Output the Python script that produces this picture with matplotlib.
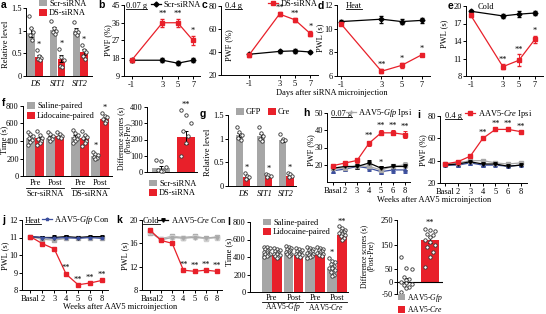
import matplotlib
matplotlib.use("Agg")
import matplotlib.pyplot as plt
from matplotlib.lines import Line2D
from matplotlib.patches import Patch

plt.rcParams["font.family"] = ["Liberation Serif", "DejaVu Serif"]
plt.rcParams["font.size"] = 6
plt.rcParams["mathtext.fontset"] = "custom"
plt.rcParams["mathtext.rm"] = "Liberation Serif"
plt.rcParams["mathtext.it"] = "Liberation Serif:italic"
plt.rcParams["axes.unicode_minus"] = False
plt.rcParams["axes.linewidth"] = 0.7
for a_ in ("xtick", "ytick"):
    plt.rcParams[a_ + ".major.size"] = 2
    plt.rcParams[a_ + ".major.width"] = 0.7
    plt.rcParams[a_ + ".labelsize"] = 6
plt.rcParams["xtick.major.pad"] = 1.5
plt.rcParams["ytick.major.pad"] = 1

RED = "#e8202a"
GRAY = "#a6a6a6"
BLUE = "#3c4f9e"
LGRAY = "#a9a9a9"

# ---- a: relative level after siRNA
a_genes = ["DS", "SIT1", "SIT2"]
a_scr = [0.95, 1.02, 1.0]
a_scr_err = [0.1, 0.06, 0.05]
a_ds = [0.42, 0.38, 0.53]
a_ds_err = [0.05, 0.08, 0.06]
a_scr_pts = [[1.32, 1.05, 0.98, 0.9, 0.8], [1.22, 1.05, 1.0, 0.97, 0.92], [1.2, 1.02, 0.98, 0.95, 0.9]]
a_ds_pts = [[0.58, 0.45, 0.4, 0.38, 0.36], [0.6, 0.42, 0.35, 0.22, 0.2], [0.68, 0.58, 0.52, 0.45, 0.38]]

# ---- b-e: siRNA time course
days = [-1, 3, 5, 7]
b_scr = [17, 17, 15.5, 17]; b_scr_err = [0.8, 1.0, 1.0, 1.0]
b_ds = [17, 36, 36, 27]; b_ds_err = [0.8, 2.0, 2.0, 2.5]
b_stars = ["", "**", "**", "*"]
c_scr = [38, 40.5, 41, 40]; c_scr_err = [1.0, 1.2, 1.5, 1.2]
c_ds = [37, 73, 68, 56]; c_ds_err = [1.0, 1.5, 1.5, 2.5]
c_stars = ["", "**", "**", "*"]
d_scr = [10.6, 10.8, 10.6, 10.7]; d_scr_err = [0.1, 0.3, 0.2, 0.2]
d_ds = [10.4, 6.4, 6.9, 7.8]; d_ds_err = [0.1, 0.15, 0.2, 0.1]
d_stars = ["", "**", "*", "*"]
e_scr = [19.1, 18.3, 18.6, 18.8]; e_scr_err = [0.3, 0.3, 0.5, 0.3]
e_ds = [18.4, 9.6, 10.7, 14.3]; e_ds_err = [0.3, 0.4, 1.0, 0.6]
e_stars = ["", "**", "**", "*"]

# ---- f: CPP siRNA
f_groups = ["Pre", "Post", "Pre", "Post"]
f_sal = [440, 440, 445, 225]
f_sal_err = [25, 15, 20, 15]
f_lid = [430, 455, 440, 650]
f_lid_err = [20, 15, 25, 15]
f_sal_pts = [[500, 480, 460, 430, 410, 390, 360], [500, 480, 460, 440, 420, 400],
             [520, 490, 470, 440, 420, 400, 380], [280, 250, 235, 220, 205, 190]]
f_lid_pts = [[510, 470, 440, 420, 400, 380, 360], [500, 480, 460, 450, 430],
             [510, 470, 450, 430, 400, 380, 340], [720, 690, 670, 650, 630, 610]]
fd_mean = [25, 215]
fd_err = [15, 40]
fd_scr_pts = [75, 65, 30, 15, 8, 5]
fd_ds_pts = [380, 350, 300, 250, 220, 180, 100]

# ---- g: relative level AAV
g_gfp = [1.08, 1.05, 0.97]
g_gfp_err = [0.05, 0.05, 0.03]
g_cre = [0.18, 0.22, 0.22]
g_cre_err = [0.03, 0.02, 0.02]
g_gfp_pts = [[1.25, 1.15, 1.08, 1.02, 0.98], [1.25, 1.12, 1.05, 1.0, 0.95], [1.1, 1.0, 0.97, 0.95]]
g_cre_pts = [[0.28, 0.22, 0.18, 0.15], [0.26, 0.24, 0.22, 0.2], [0.28, 0.25, 0.22, 0.2]]

# ---- h-k: AAV time course
weeks = ["Basal", "2", "3", "4", "5", "6", "8"]
h_cre_ipsi = [19.5, 21, 22.5, 32.5, 38.5, 38.5, 37.5]
h_gfp_ipsi = [18, 18, 19.5, 19, 17, 19, 20]
h_cre_con = [18, 19, 19, 21, 18, 19, 19]
h_gfp_con = [16.5, 17.5, 19, 18, 16, 17, 17]
h_err = [1.0, 1.0, 1.2, 1.5, 1.5, 1.5, 1.8]
h_stars = ["", "", "", "**", "**", "**", "**"]
i_cre_ipsi = [37, 39, 44, 60, 68, 68, 66]
i_gfp_ipsi = [37, 38, 40, 40, 38, 37, 38]
i_cre_con = [36, 37, 39, 37, 37, 35, 36]
i_gfp_con = [36, 36, 38, 36, 36, 35, 36]
i_err = [1.0, 1.5, 1.5, 1.5, 1.0, 1.0, 1.0]
i_stars = ["", "", "", "**", "**", "**", "**"]
j_cre_ipsi = [11.05, 10.65, 10.35, 8.9, 8.3, 8.4, 8.55]
j_gfp_ipsi = [11.05, 10.9, 10.85, 10.95, 11.0, 11.0, 11.0]
j_cre_con = [11.05, 11.0, 11.0, 11.05, 11.0, 11.05, 11.05]
j_gfp_con = [11.05, 11.0, 10.95, 11.0, 10.95, 11.0, 10.95]
j_err = [0.05, 0.08, 0.12, 0.1, 0.05, 0.05, 0.06]
j_stars = ["", "", "", "**", "**", "**", "**"]
k_cre_ipsi = [18.3, 16.5, 16.0, 11.4, 11.2, 11.4, 11.2]
k_gfp_ipsi = [17.8, 16.8, 17.2, 17.0, 17.2, 16.9, 17.1]
k_cre_con = [18.0, 16.6, 17.0, 16.9, 17.0, 16.9, 17.0]
k_gfp_con = [17.9, 16.7, 17.1, 16.9, 17.1, 16.8, 17.0]
k_err = [0.3, 0.2, 0.2, 0.2, 0.2, 0.2, 0.2]
k_stars = ["", "", "", "**", "**", "**", "**"]

# ---- l: CPP AAV
l_groups = ["Pre", "Post", "Pre", "Post"]
l_sal = [440, 450, 430, 260]
l_lid = [420, 420, 420, 650]
l_sal_pts = [[520, 510, 500, 490, 480, 470, 460, 450, 440, 430, 420, 410, 400],
             [530, 515, 500, 490, 480, 470, 460, 450, 440, 430, 420, 410],
             [510, 500, 490, 480, 470, 460, 450, 440, 430, 420, 410, 400, 390],
             [390, 360, 340, 320, 300, 290, 280, 270, 250, 230, 200, 180]]
l_lid_pts = [[500, 490, 480, 470, 460, 450, 440, 430, 420, 410, 400, 390],
             [500, 490, 480, 470, 460, 450, 440, 430, 420, 410, 400],
             [520, 500, 490, 480, 470, 460, 450, 440, 430, 420, 410],
             [750, 730, 710, 700, 690, 680, 670, 660, 650, 640, 620, 600]]
ld_mean = [5, 170]
ld_err = [10, 12]
ld_gfp_pts = [100, 55, 52, 20, 10, 5, 0, -5, -10, -15, -20, -25, -40]
ld_cre_pts = [215, 210, 205, 195, 190, 180, 170, 160, 150, 140, 120, 100, 60]

W, H = 546, 314
fig = plt.figure(figsize=(W / 100, H / 100), dpi=100)


def box(l, t, r, b):
    ax = fig.add_axes([l / W, 1 - b / H, (r - l) / W, (b - t) / H])
    ax.spines["top"].set_visible(False)
    ax.spines["right"].set_visible(False)
    ax.patch.set_alpha(0)
    return ax


def ftext(x, y, s, **kw):
    kw.setdefault("ha", "center")
    kw.setdefault("va", "center")
    return fig.text(x / W, 1 - y / H, s, **kw)


def letter(x, y, s):
    ftext(x, y, s, family="Liberation Sans", weight="bold", fontsize=7.5)


def ylab(x, y, s, size=6):
    ftext(x, y, s, rotation=90, fontsize=size)


unders = []


def uline(x, y, s):
    unders.append(ftext(x, y, s, ha="left"))


def leg(handles, labels, x, y, **kw):
    opts = dict(loc="center left", bbox_to_anchor=(x / W, 1 - y / H), frameon=False,
                fontsize=6, handlelength=1.2, handletextpad=0.3, borderpad=0,
                borderaxespad=0, labelspacing=0.15, columnspacing=0.8)
    opts.update(kw)
    fig.legend(handles, labels, **opts)


def sq(c):
    return Patch(facecolor=c, edgecolor="none")


def mk(c, m):
    return Line2D([], [], color=c, marker=m, ms=2.5, lw=0.9)


def dots(ax, xc, pts, w):
    offs = [-1, 0, 1, -0.5, 0.5, 0]
    for i, v in enumerate(pts):
        ax.scatter(xc + offs[i % 6] * w * 0.3, v, s=6, facecolor="white",
                   edgecolor="#333333", lw=0.6, zorder=4, clip_on=False)


def bars(ax, xs, means, errs, pts, color, w):
    ax.bar(xs, means, width=w, color=color, zorder=1)
    if errs is not None:
        ax.errorbar(xs, means, yerr=errs, fmt="none", ecolor="black", elinewidth=0.7,
                    capsize=1.3, capthick=0.7, zorder=3)
    for x, p in zip(xs, pts):
        dots(ax, x, p, w)


def lines(ax, x, series, err, xlim, ylim, yticks, labels=None):
    for m, c, marker in series:
        ax.errorbar(x, m, yerr=err, color=c, marker=marker, ms=2.5, lw=0.9,
                    elinewidth=0.7, capsize=1.3, capthick=0.7, mfc=c, mec=c)
    ax.set_xlim(*xlim)
    ax.set_ylim(*ylim)
    ax.set_yticks(yticks)
    ax.set_xticks(x)
    if labels is not None:
        ax.set_xticklabels(labels)


def stars(ax, x, means, errs, labels, pad):
    for xi, m, e, s in zip(x, means, errs, labels):
        if s:
            ax.text(xi, m + e + pad, s, ha="center", va="bottom", fontsize=6)


def siRNA_panel(ax, scr, scr_err, ds, ds_err, xlim, ylim, yticks, star_labels, pad):
    lines(ax, days, [(scr, "black", "D"), (ds, RED, "s")], None, xlim, ylim, yticks)
    ax.errorbar(days, scr, yerr=scr_err, fmt="none", ecolor="black", elinewidth=0.7, capsize=1.3)
    ax.errorbar(days, ds, yerr=ds_err, fmt="none", ecolor=RED, elinewidth=0.7, capsize=1.3)
    stars(ax, days, ds, ds_err, star_labels, pad)


# ---------------- a
ax = box(26, 8, 92, 76)
pos = [0, 1, 2]
bars(ax, [p - 0.17 for p in pos], a_scr, a_scr_err, a_scr_pts, GRAY, 0.33)
bars(ax, [p + 0.17 for p in pos], a_ds, a_ds_err, a_ds_pts, RED, 0.33)
for p, pts in zip(pos, a_ds_pts):
    ax.text(p + 0.17, max(pts) + 0.02, "*", ha="center", va="bottom", fontsize=6)
ax.set_xlim(-0.4, 2.53)
ax.set_ylim(0, 1.5)
ax.set_yticks([0, 0.5, 1, 1.5])
ax.set_yticklabels(["0", "0.5", "1", "1.5"])
ax.set_xticks(pos)
ax.set_xticklabels(a_genes, style="italic")
ax.tick_params(axis="x", length=0, pad=3)
letter(4, 5, "a")
ylab(6, 44, "Relative level")
leg([sq(GRAY), sq(RED)], ["Scr-siRNA", "DS-siRNA"], 39, 8.5, handlelength=0.9, handleheight=0.9)

# ---------------- b
ax = box(124, 5, 200, 76)
siRNA_panel(ax, b_scr, b_scr_err, b_ds, b_ds_err, (-2.0, 7.9), (9, 45), [9, 18, 27, 36, 45], b_stars, 0.3)
letter(101, 5, "b")
ylab(108, 40, "PWF (%)")
uline(126, 6, "0.07 g")
leg([mk("black", "D")], ["Scr-siRNA"], 151, 5)

# ---------------- c
ax = box(221, 6, 318, 75)
siRNA_panel(ax, c_scr, c_scr_err, c_ds, c_ds_err, (-4.6, 8.0), (20, 80), [20, 40, 60, 80], c_stars, 0.0)
letter(205, 5, "c")
ylab(229, 45, "PWF (%)")
uline(225, 6, "0.4 g")
leg([mk(RED, "s")], ["DS-siRNA"], 268, 4)

# ---------------- d
ax = box(337, 5, 430, 76)
siRNA_panel(ax, d_scr, d_scr_err, d_ds, d_ds_err, (-1.4, 7.8), (6, 12), [6, 8, 10, 12], d_stars, 0.05)
letter(321, 6, "d")
ylab(320, 38, "PWL (s)")
uline(346, 6, "Heat")

# ---------------- e
ax = box(466, 6, 543, 76)
siRNA_panel(ax, e_scr, e_scr_err, e_ds, e_ds_err, (-1.6, 8.0), (8, 20), [8, 11, 14, 17, 20], e_stars, 0.1)
letter(451, 6, "e")
ylab(444, 34, "PWL (s)")
ftext(478, 7, "Cold", ha="left")

ftext(332, 93, "Days after siRNA microinjection")

# ---------------- f
ax = box(23, 106, 112, 176)
fpos = [0, 1, 2.25, 3.25]
bars(ax, [p - 0.23 for p in fpos], f_sal, f_sal_err, f_sal_pts, GRAY, 0.45)
bars(ax, [p + 0.23 for p in fpos], f_lid, f_lid_err, f_lid_pts, RED, 0.45)
ax.text(fpos[3] - 0.23, max(f_sal_pts[3]) + 15, "*", ha="center", va="bottom", fontsize=6)
ax.text(fpos[3] + 0.23, max(f_lid_pts[3]) + 10, "*", ha="center", va="bottom", fontsize=6)
ax.set_xlim(-0.6, 3.85)
ax.set_ylim(0, 800)
ax.set_yticks([0, 200, 400, 600, 800])
ax.set_xticks(fpos)
ax.set_xticklabels(f_groups)
ax.tick_params(axis="x", length=0, pad=2)
tr = ax.get_xaxis_transform()
for a0, a1, name in [(fpos[0], fpos[1], "Scr-siRNA"), (fpos[2], fpos[3], "DS-siRNA")]:
    ax.plot([a0 - 0.45, a1 + 0.45], [-0.17, -0.17], color="black", lw=0.6, transform=tr, clip_on=False)
    ax.text((a0 + a1) / 2, -0.2, name, transform=tr, ha="center", va="top")
letter(3.5, 103, "f")
ylab(4, 140, "Time (s)")
leg([sq(GRAY), sq(RED)], ["Saline-paired", "Lidocaine-paired"], 27, 111, handlelength=0.9, handleheight=0.9)

# f right
ax = box(147, 107, 197, 172)
ax.bar([0], [fd_mean[0]], width=0.7, color=GRAY)
ax.bar([1], [fd_mean[1]], width=0.7, color=RED)
ax.errorbar([0, 1], fd_mean, yerr=fd_err, fmt="none", ecolor="black", elinewidth=0.7, capsize=1.3, capthick=0.7)
dots(ax, 0, fd_scr_pts, 0.7)
dots(ax, 1, fd_ds_pts, 0.7)
ax.text(1, max(fd_ds_pts) + 8, "**", ha="center", va="bottom", fontsize=6)
ax.set_xlim(-0.55, 1.45)
ax.set_ylim(0, 400)
ax.set_yticks([0, 100, 200, 300, 400])
ax.set_xticks([])
ylab(121, 138, "Difference scores (s)", 5.5)
ylab(128, 138, "(Post-Pre)", 5.5)
leg([sq(GRAY), sq(RED)], ["Scr-siRNA", "DS-siRNA"], 149, 188.5, handlelength=0.9, handleheight=0.9)

# ---------------- g
ax = box(228, 115, 296, 186)
bars(ax, [p - 0.17 for p in pos], g_gfp, g_gfp_err, g_gfp_pts, GRAY, 0.33)
bars(ax, [p + 0.17 for p in pos], g_cre, g_cre_err, g_cre_pts, RED, 0.33)
for p, pts in zip(pos, g_cre_pts):
    ax.text(p + 0.17, max(pts) + 0.02, "*", ha="center", va="bottom", fontsize=6)
ax.set_xlim(-0.7, 2.45)
ax.set_ylim(0, 1.5)
ax.set_yticks([0, 0.5, 1, 1.5])
ax.set_yticklabels(["0", "0.5", "1", "1.5"])
ax.set_xticks(pos)
ax.set_xticklabels(a_genes, style="italic")
ax.tick_params(axis="x", length=0, pad=3)
letter(203, 114, "g")
ylab(208, 152, "Relative level")
leg([sq(GRAY), sq(RED)], ["GFP", "Cre"], 236, 112, ncol=2, handlelength=0.9, handleheight=0.9)

# ---------------- h
wx = list(range(len(weeks)))
ax = box(327, 113, 410, 182)
lines(ax, wx, [(h_gfp_con, BLUE, "^"), (h_gfp_ipsi, LGRAY, "s"), (h_cre_con, "black", "v"),
               (h_cre_ipsi, RED, "s")], h_err, (-0.5, 6.4), (10, 50), [20, 30, 40, 50], weeks)
stars(ax, wx, h_cre_ipsi, h_err, h_stars, 0.3)
ax.text(4, max(h_gfp_con[4], h_cre_con[4]) + 0.6, "*", ha="center", va="bottom", fontsize=6)
letter(306, 113, "h")
ylab(311, 150, "PWF (%)")
uline(331, 114, "0.07 g")
leg([mk(LGRAY, "+")], ["AAV5-$\\it{Gfp}$ Ipsi"], 346, 113)

# ---------------- i
ax = box(440, 116, 527, 183)
lines(ax, wx, [(i_gfp_con, BLUE, "^"), (i_gfp_ipsi, LGRAY, "s"), (i_cre_con, "black", "v"),
               (i_cre_ipsi, RED, "s")], i_err, (-0.4, 6.5), (20, 80), [20, 40, 60, 80], weeks)
stars(ax, wx, i_cre_ipsi, i_err, i_stars, 0.0)
letter(419, 115, "i")
ylab(423, 150, "PWF (%)")
uline(445, 116, "0.4 g")
leg([mk(RED, "s")], ["AAV5-$\\it{Cre}$ Ipsi"], 465, 114)

ftext(434, 200, "Weeks after AAV5 microinjection")

# ---------------- j
ax = box(22, 220, 108, 290)
lines(ax, wx, [(j_gfp_ipsi, LGRAY, "s"), (j_cre_con, "black", "v"), (j_gfp_con, BLUE, "*"),
               (j_cre_ipsi, RED, "s")], j_err, (-0.7, 6.5), (8, 12), [8, 9, 10, 11, 12], weeks)
stars(ax, wx, j_cre_ipsi, j_err, j_stars, 0.02)
letter(4, 220, "j")
ylab(5, 256, "PWL (s)")
uline(25, 221, "Heat")
leg([mk(BLUE, "*")], ["AAV5-$\\it{Gfp}$ Con"], 42, 220)

# ---------------- k
ax = box(142, 220, 222, 290)
lines(ax, wx, [(k_gfp_ipsi, LGRAY, "s"), (k_gfp_con, "#cfcfcf", "s"), (k_cre_con, LGRAY, "v"),
               (k_cre_ipsi, RED, "s")], k_err, (-0.7, 6.45), (8, 20), [8, 12, 16, 20], weeks)
stars(ax, wx, k_cre_ipsi, k_err, k_stars, 0.05)
letter(119, 220, "k")
ylab(125, 256, "PWL (s)")
uline(143, 221, "Cold")
leg([mk("black", "v")], ["AAV5-$\\it{Cre}$ Con"], 158, 220)

ftext(120, 307, "Weeks after AAV5 microinjection")

# ---------------- l
ax = box(250, 222, 348, 292)
lpos = [0, 1, 2, 3]
bars(ax, [p - 0.23 for p in lpos], l_sal, None, l_sal_pts, GRAY, 0.45)
bars(ax, [p + 0.23 for p in lpos], l_lid, None, l_lid_pts, RED, 0.45)
ax.text(lpos[3] - 0.23, max(l_sal_pts[3]) + 15, "*", ha="center", va="bottom", fontsize=6)
ax.text(lpos[3] + 0.23, max(l_lid_pts[3]) + 10, "**", ha="center", va="bottom", fontsize=6)
ax.set_xlim(-1.0, 3.5)
ax.set_ylim(0, 800)
ax.set_yticks([0, 200, 400, 600, 800])
ax.set_xticks(lpos)
ax.set_xticklabels(l_groups)
ax.tick_params(axis="x", length=0, pad=1.5)
tr = ax.get_xaxis_transform()
for a0, a1, name in [(0, 1, "AAV5-$\\it{Gfp}$"), (2, 3, "AAV5-$\\it{Cre}$")]:
    ax.plot([a0 - 0.45, a1 + 0.45], [-0.14, -0.14], color="black", lw=0.6, transform=tr, clip_on=False)
    ax.text((a0 + a1) / 2, -0.22, name, transform=tr, ha="center", va="center", fontsize=5.5)
letter(229, 222, "l")
ylab(229, 252, "Time (s)")
leg([sq(GRAY), sq(RED)], ["Saline-paired", "Lidocaine-paired"], 263, 227.5, handlelength=0.9, handleheight=0.9)

# l right
ax = box(397, 220, 443, 294)
ax.spines["bottom"].set_visible(False)
ax.bar([1], [ld_mean[1]], width=0.75, color=RED)
ax.errorbar([0, 1], ld_mean, yerr=ld_err, fmt="none", ecolor="black", elinewidth=0.7, capsize=1.3, capthick=0.7)
dots(ax, 0, ld_gfp_pts, 0.75)
dots(ax, 1, ld_cre_pts, 0.75)
ax.axhline(0, color="black", lw=0.8)
ax.text(1, max(ld_cre_pts) + 8, "**", ha="center", va="bottom", fontsize=6)
ax.set_xlim(-0.4, 1.55)
ax.set_ylim(-50, 250)
ax.set_yticks([-50, 0, 50, 150, 250])
ax.set_xticks([])
ylab(364, 256, "Difference scores (s)", 5.5)
ylab(371, 256, "(Post-Pre)", 5.5)
leg([sq(GRAY), sq(RED)], ["AAV5-$\\it{Gfp}$", "AAV5-$\\it{Cre}$"], 398, 303, fontsize=5.5,
    labelspacing=0.05, handlelength=0.9, handleheight=0.9)

# underline texts
fig.canvas.draw()
for t in unders:
    bb = t.get_window_extent()
    fig.add_artist(Line2D([bb.x0 / W, bb.x1 / W], [(bb.y0 + 1) / H] * 2, color="black", lw=0.6))

fig.savefig("out.png", dpi=100)
